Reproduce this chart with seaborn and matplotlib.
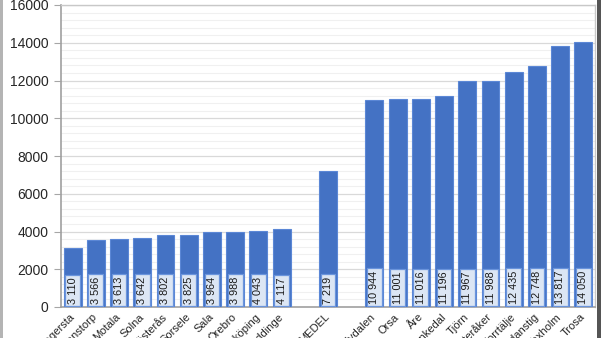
import numpy as np
import pandas as pd
import matplotlib
matplotlib.use("Agg")
import matplotlib.pyplot as plt
from matplotlib.ticker import MultipleLocator
from matplotlib.patches import Rectangle
import seaborn as sns

# --- data ---
low_names = ["Fagersta", "Staffanstorp", "Motala", "Solna", "Västerås",
             "Sorsele", "Sala", "Örebro", "Linköping", "Huddinge"]
low_values = [3110, 3566, 3613, 3642, 3802, 3825, 3964, 3988, 4043, 4117]
mid_names = ["MEDEL"]
mid_values = [7219]
high_names = ["Älvdalen", "Orsa", "Åre", "Munkedal", "Tjörn", "Österåker",
              "Norrtälje", "Nordanstig", "Vaxholm", "Trosa"]
high_values = [10944, 11001, 11016, 11196, 11967, 11988, 12435, 12748, 13817, 14050]
gap_a, gap_b = " ", "  "
order = low_names + [gap_a] + mid_names + [gap_b] + high_names
y_ticks = [0, 2000, 4000, 6000, 8000, 10000, 12000, 14000, 16000]

df = pd.DataFrame({"kommun": low_names + mid_names + high_names,
                   "varde": low_values + mid_values + high_values})

sns.set_style("white")
plt.rcParams["font.family"] = ["Liberation Sans", "DejaVu Sans"]

fig = plt.figure(figsize=(6.01, 3.38), dpi=100)
ax = fig.add_axes([61 / 601, 1 - 307 / 338, (595 - 61) / 601, (307 - 5) / 338])

sns.barplot(data=df, x="kommun", y="varde", order=order, color="#4472C4",
            saturation=1, width=0.77, edgecolor="#5b87d6", linewidth=0.8,
            ax=ax, zorder=3)

ax.set_ylim(0, 16000)
ax.set_xlim(-0.5, len(order) - 0.5)
ax.set_yticks(y_ticks)
ax.set_yticklabels([str(v) for v in y_ticks], fontsize=10)
ax.yaxis.set_minor_locator(MultipleLocator(400))
ax.grid(axis="y", which="major", color="#d9d9d9", linewidth=0.9, zorder=0)
ax.grid(axis="y", which="minor", color="#f0f0f0", linewidth=0.8, zorder=0)
ax.set_axisbelow(True)
ax.set_xlabel("")
ax.set_ylabel("")

ax.set_xticks(range(len(order)))
ax.set_xticklabels(order, rotation=45, ha="right", va="center",
                   rotation_mode="anchor", fontsize=8)
ax.set_xticks(np.arange(-0.5, len(order), 1), minor=True)
ax.tick_params(axis="x", which="major", length=0, pad=6)
ax.tick_params(axis="x", which="minor", length=4, color="#a6a6a6", width=0.8)
ax.tick_params(axis="y", which="major", length=5, color="#a6a6a6", width=0.8, pad=4, left=True)
ax.tick_params(axis="y", which="minor", length=0)

for side in ["left", "bottom"]:
    ax.spines[side].set_color("#a0a0a0")
    ax.spines[side].set_linewidth(1.2)
for side in ["top", "right"]:
    ax.spines[side].set_color("#c8c8c8")
    ax.spines[side].set_linewidth(1.0)

for p in ax.patches:
    h = p.get_height()
    if np.isnan(h) or h <= 0:
        continue
    xc = p.get_x() + p.get_width() / 2
    label = f"{int(round(h)):,}".replace(",", " ")
    ax.text(xc, 160, label, rotation=90, ha="center", va="bottom", fontsize=7.8,
            color="#1a1a1a", zorder=5,
            bbox=dict(boxstyle="square,pad=0.22", facecolor="#dce6f4",
                      edgecolor="#6a94dc", linewidth=0.9))

# figure border
fig.patches.append(Rectangle((0, 0), 3 / 601, 1, transform=fig.transFigure,
                             facecolor="#b4b4b4", edgecolor="none"))
fig.patches.append(Rectangle((597 / 601, 0), 4 / 601, 1, transform=fig.transFigure,
                             facecolor="#555555", edgecolor="none"))

fig.savefig("out.png", dpi=100)
